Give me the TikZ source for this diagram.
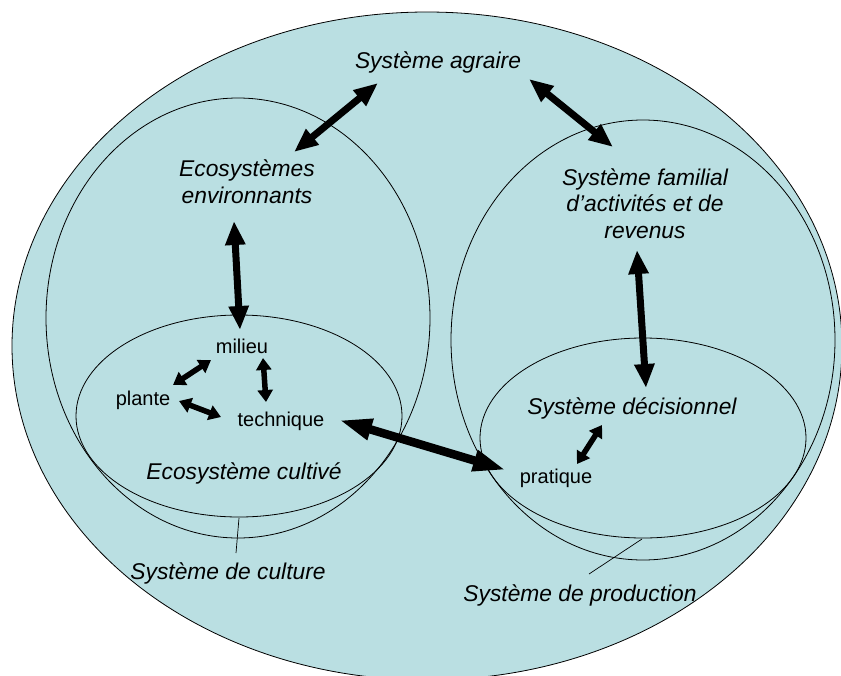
\documentclass[tikz,border=0pt]{standalone}
\usepackage{fontspec}
\setmainfont{Liberation Sans}
\usetikzlibrary{arrows.meta}
\definecolor{sysfill}{RGB}{186,223,226}
\begin{document}
\begin{tikzpicture}[x=1pt,y=-1pt,
  outline/.style={draw=black,line width=0.8pt},
  lbl/.style={font=\fontsize{22.8}{26.5}\selectfont\itshape,anchor=base,inner sep=0pt,align=center},
  sm/.style={font=\fontsize{20}{24}\selectfont,anchor=base,inner sep=0pt},
  bigarrow/.style={line width=7pt,{Triangle[length=24pt,width=19pt]}-{Triangle[length=24pt,width=19pt]}},
  hugearrow/.style={line width=8.5pt,{Triangle[length=33pt,width=20pt]}-{Triangle[length=33pt,width=20pt]}},
  smallarrow/.style={line width=5.5pt,{Triangle[length=12pt,width=15pt]}-{Triangle[length=12pt,width=15pt]}},
  leader/.style={draw=black,line width=0.7pt}]
\useasboundingbox (0,0) rectangle (841,675);
% ellipses
\path[outline,fill=sysfill] (427,346) ellipse [x radius=415,y radius=334];
\path[outline] (238,318) ellipse [x radius=192,y radius=220];
\path[outline] (239,416) ellipse [x radius=163,y radius=101];
\path[outline] (643,340) ellipse [x radius=192,y radius=220];
\path[outline] (643,438) ellipse [x radius=163,y radius=100];
% labels
\node[lbl] (agraire) at (438,68) {Système agraire};
\node[lbl] (ecoenv) at (247,203) {Ecosystèmes\\environnants};
\node[lbl] (famil) at (645,238) {Système familial\\d’activités et de\\revenus};
\node[sm] (milieu) at (242,353) {milieu};
\node[sm] (plante) at (143,405) {plante};
\node[sm] (technique) at (281,426) {technique};
\node[lbl] (ecocult) at (244,479) {Ecosystème cultivé};
\node[lbl] (culture) at (228,579) {Système de culture};
\node[lbl] (decis) at (632,414) {Système décisionnel};
\node[sm] (pratique) at (556,483) {pratique};
\node[lbl] (production) at (580,601) {Système de production};
% arrow ends
\coordinate (a1s) at (378,83);  \coordinate (a1e) at (294,152);
\coordinate (a2s) at (529,79);  \coordinate (a2e) at (613,147);
\coordinate (a3s) at (234,221); \coordinate (a3e) at (240,330);
\coordinate (a4s) at (637,250); \coordinate (a4e) at (646,388);
\coordinate (a5s) at (211,360); \coordinate (a5e) at (173,385);
\coordinate (a6s) at (263,358); \coordinate (a6e) at (266,402);
\coordinate (a7s) at (179,401); \coordinate (a7e) at (221,417);
\coordinate (a8s) at (339,420); \coordinate (a8e) at (506,470);
\coordinate (a9s) at (602,425); \coordinate (a9e) at (577,464);
\draw[bigarrow] (a1s) -- (a1e);
\draw[bigarrow] (a2s) -- (a2e);
\draw[bigarrow] (a3s) -- (a3e);
\draw[bigarrow] (a4s) -- (a4e);
\draw[smallarrow] (a5s) -- (a5e);
\draw[smallarrow] (a6s) -- (a6e);
\draw[smallarrow] (a7s) -- (a7e);
\draw[hugearrow] (a8s) -- (a8e);
\draw[smallarrow] (a9s) -- (a9e);
% leaders
\coordinate (l1a) at (239,518); \coordinate (l1b) at (236,553);
\coordinate (l2a) at (642,539); \coordinate (l2b) at (589,574);
\draw[leader] (l1a) -- (l1b);
\draw[leader] (l2a) -- (l2b);
\end{tikzpicture}
\end{document}
